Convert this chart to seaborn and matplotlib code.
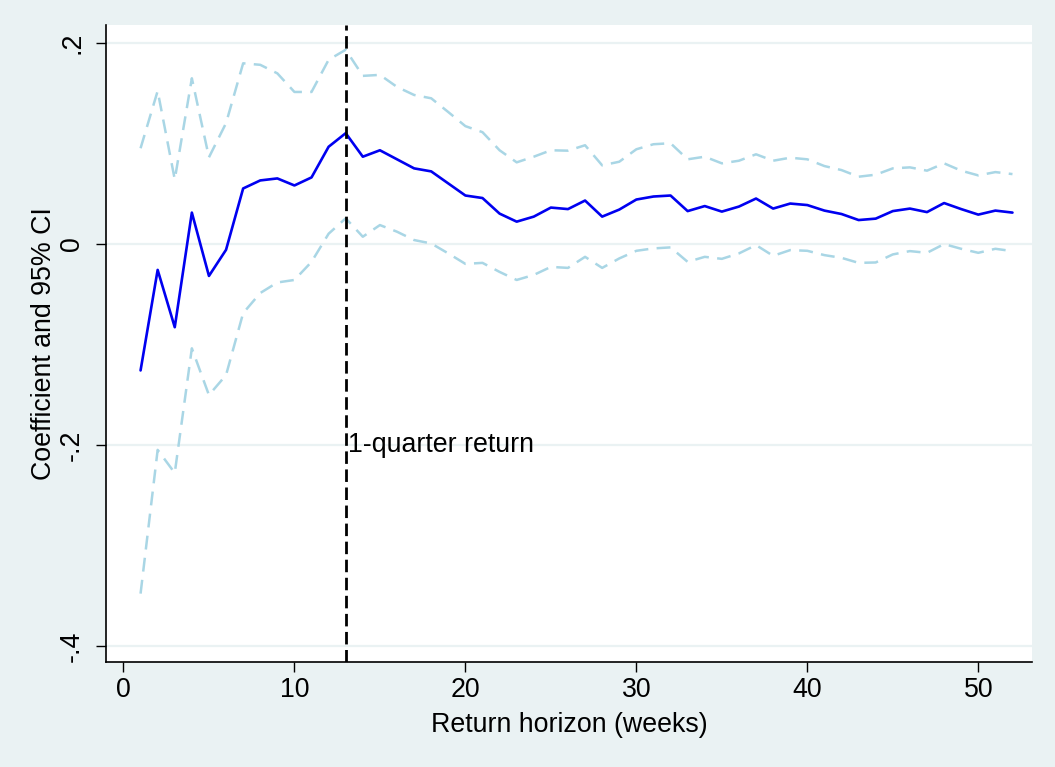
import numpy as np
import pandas as pd
import matplotlib
matplotlib.use("Agg")
import matplotlib.pyplot as plt
import seaborn as sns

# Regression coefficient by return horizon, with 95% confidence bounds
weeks = list(range(1, 53))
coef = [-0.126, -0.026, -0.083, 0.031, -0.032, -0.006, 0.055, 0.063, 0.065, 0.058,
        0.066, 0.0965, 0.110, 0.0866, 0.093, 0.084, 0.075, 0.072, 0.060, 0.048,
        0.0455, 0.030, 0.022, 0.027, 0.036, 0.0345, 0.043, 0.027, 0.034, 0.044,
        0.047, 0.048, 0.0325, 0.0375, 0.032, 0.037, 0.045, 0.035, 0.040, 0.0385,
        0.033, 0.0296, 0.0236, 0.025, 0.0325, 0.035, 0.0315, 0.0405, 0.0345, 0.029,
        0.033, 0.031]
ci_upper = [0.095, 0.152, 0.064, 0.1646, 0.086, 0.120, 0.1795, 0.178, 0.1695, 0.151,
            0.151, 0.183, 0.1930, 0.167, 0.168, 0.156, 0.148, 0.1447, 0.131, 0.117,
            0.111, 0.093, 0.081, 0.0866, 0.093, 0.0926, 0.098, 0.078, 0.0816, 0.094,
            0.099, 0.100, 0.084, 0.0866, 0.080, 0.0826, 0.089, 0.0826, 0.0856, 0.084,
            0.0773, 0.0733, 0.0667, 0.0687, 0.075, 0.076, 0.0727, 0.080, 0.0727, 0.068,
            0.0713, 0.0693]
ci_lower = [-0.348, -0.205, -0.228, -0.104, -0.1505, -0.1306, -0.069, -0.049, -0.0385, -0.036,
            -0.018, 0.010, 0.0253, 0.007, 0.0186, 0.012, 0.0037, 0.0003, -0.0096, -0.020,
            -0.019, -0.028, -0.036, -0.031, -0.023, -0.024, -0.013, -0.024, -0.0146, -0.007,
            -0.0046, -0.0036, -0.018, -0.013, -0.015, -0.0096, -0.0013, -0.012, -0.0063, -0.007,
            -0.0113, -0.014, -0.019, -0.0186, -0.0106, -0.0073, -0.009, -0.0003, -0.005, -0.009,
            -0.005, -0.0073]

quarter_week = 13
quarter_label = "1-quarter return"
x_ticks = [0, 10, 20, 30, 40, 50]
y_ticks = [-0.4, -0.2, 0.0, 0.2]
y_tick_labels = ["-.4", "-.2", "0", ".2"]

df = pd.DataFrame({"week": weeks, "coef": coef, "upper": ci_upper, "lower": ci_lower})

sns.set_theme(style="white")
plt.rcParams["font.family"] = ["Liberation Sans", "DejaVu Sans"]
plt.rcParams["lines.scale_dashes"] = False

fs = 19.3
bg = "#EAF2F3"
fig = plt.figure(figsize=(10.55, 7.67), dpi=100, facecolor=bg)
ax = fig.add_axes([0.1005, 0.1369, 0.8775, 0.8305])
ax.set_facecolor("white")

# horizontal grid
for yv in y_ticks:
    ax.axhline(yv, color=bg, lw=1.6, zorder=0)

ci_color = "#A9D6E5"
sns.lineplot(data=df, x="week", y="upper", ax=ax, color=ci_color, lw=1.8,
             zorder=2).lines[-1].set_dashes((10, 6))
sns.lineplot(data=df, x="week", y="lower", ax=ax, color=ci_color, lw=1.8,
             zorder=2).lines[-1].set_dashes((10, 6))
sns.lineplot(data=df, x="week", y="coef", ax=ax, color="#0000F0", lw=1.9, zorder=3)

ax.axvline(quarter_week, color="black", lw=2.0, dashes=(9, 4), zorder=4)
ax.text(quarter_week + 0.12, -0.2, quarter_label, ha="left", va="center",
        fontsize=fs, color="black", zorder=5)

ax.set_xlim(-1.02, 53.13)
ax.set_ylim(-0.416, 0.2176)
ax.set_xticks(x_ticks)
ax.set_xticklabels([str(v) for v in x_ticks])
ax.set_yticks(y_ticks)
ax.set_yticklabels(y_tick_labels, rotation=90, va="center")

for side in ["top", "right"]:
    ax.spines[side].set_visible(False)
for side in ["left", "bottom"]:
    ax.spines[side].set_color("black")
    ax.spines[side].set_linewidth(1.2)

ax.tick_params(axis="both", direction="out", length=7.5, width=1, color="black",
               labelsize=fs, labelcolor="black", bottom=True, left=True)
ax.tick_params(axis="x", pad=3.5)
ax.tick_params(axis="y", pad=7.5)

ax.set_xlabel("Return horizon (weeks)", fontsize=fs, labelpad=6, color="black")
ax.set_ylabel("Coefficient and 95% CI", fontsize=fs, labelpad=1.5, color="black")

fig.savefig("out.png", dpi=100, facecolor=bg)
